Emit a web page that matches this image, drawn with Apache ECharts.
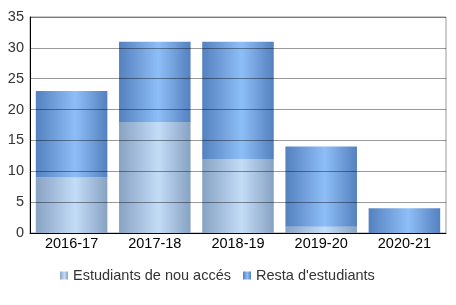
<!DOCTYPE html>
<html><head><meta charset="utf-8">
<script src="https://cdn.jsdelivr.net/npm/echarts@6/dist/echarts.min.js"></script>
<style>html,body{margin:0;padding:0;background:#fff}#c{width:456px;height:305px}</style>
</head><body><div id="c"></div>
<script>
const categories = ['2016-17','2017-18','2018-19','2019-20','2020-21'];
const newStudents = [9, 18, 12, 1, 0];
const restStudents = [14, 13, 19, 13, 4];
const seriesNames = ["Estudiants de nou accés", "Resta d'estudiants"];
const yTicks = {min: 0, max: 35, interval: 5};

function grad(edge, mid) {
  return new echarts.graphic.LinearGradient(0, 0, 1, 0, [
    {offset: 0, color: edge},
    {offset: 0.55, color: mid},
    {offset: 1, color: edge}
  ]);
}
const chart = echarts.init(document.getElementById('c'), null, {renderer: 'canvas'});
chart.setOption({
  animation: false,
  textStyle: {fontFamily: 'Liberation Sans, Arial, sans-serif'},
  grid: {left: 30, right: 10, top: 17, bottom: 72, show: true, borderColor: '#999', borderWidth: 1, containLabel: false},
  legend: {
    left: 55, top: 263, itemWidth: 8, itemHeight: 8, itemGap: 12, icon: 'rect',
    textStyle: {fontSize: 14.5, color: '#333', fontFamily: 'Liberation Sans, Arial, sans-serif'},
    data: seriesNames
  },
  xAxis: {
    type: 'category', data: categories,
    axisLine: {lineStyle: {color: '#000', width: 1}},
    axisTick: {show: false},
    axisLabel: {color: '#000', fontSize: 14.5, margin: 3}
  },
  yAxis: {
    type: 'value', min: yTicks.min, max: yTicks.max, interval: yTicks.interval, z: 10,
    axisLine: {show: true, lineStyle: {color: '#000', width: 1}},
    axisTick: {show: false},
    axisLabel: {color: '#333', fontSize: 14.5, margin: 6},
    splitLine: {lineStyle: {color: 'rgba(0,0,0,0.4)', width: 1}}
  },
  series: [
    {name: seriesNames[0], type: 'bar', stack: 's', data: newStudents, barCategoryGap: '14%',
     itemStyle: {color: grad('#88a2c3', '#c3dcf7')}},
    {name: seriesNames[1], type: 'bar', stack: 's', data: restStudents, barCategoryGap: '14%',
     itemStyle: {color: grad('#5481bf', '#8ebef7')}}
  ]
});
</script></body></html>
